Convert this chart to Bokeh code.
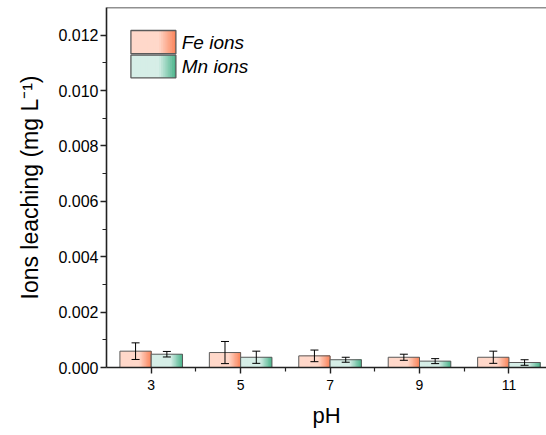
import numpy as np
from bokeh.plotting import figure
from bokeh.models import (Range1d, FixedTicker, ColumnDataSource, Whisker, TeeHead,
                          Label, Span, NumeralTickFormatter)
from bokeh.embed import file_html
from bokeh.resources import INLINE

# ---- data ----
ph_labels = ["3", "5", "7", "9", "11"]
fe_values = [0.00059, 0.00054, 0.00042, 0.00037, 0.00037]
fe_errors = [0.00030, 0.00040, 0.00021, 0.00011, 0.00022]
mn_values = [0.00048, 0.00037, 0.00028, 0.00023, 0.00018]
mn_errors = [0.00010, 0.00022, 0.00009, 0.00009, 0.00010]
series_names = ["Fe ions", "Mn ions"]
y_ticks = [0.000, 0.002, 0.004, 0.006, 0.008, 0.010, 0.012]

# ---- styling ----
FONT = "Liberation Sans"
fe_light, fe_dark = (255, 216, 202), (250, 130, 88)
mn_light, mn_dark = (214, 238, 231), (72, 178, 137)
outline = "#5a5a5a"
bar_w = 0.35
N_STRIPS = 24
Y_END = 0.013

p = figure(width=546, height=435, output_backend="svg", toolbar_location=None,
           x_range=Range1d(-0.5, 4.42), y_range=Range1d(0, Y_END),
           min_border_left=106, min_border_right=0, min_border_top=7,
           min_border_bottom=68)
p.outline_line_color = None
p.xgrid.visible = False
p.ygrid.visible = False
p.background_fill_color = "white"
p.border_fill_color = "white"


def mix(c1, c2, s):
    r = [int(round(a + (b - a) * s)) for a, b in zip(c1, c2)]
    return "#%02x%02x%02x" % tuple(r)


def strip_colors(light, dark):
    cols = []
    for k in range(N_STRIPS):
        t = (k + 0.5) / N_STRIPS
        s = 0.0 if t < 0.62 else (t - 0.62) / 0.38
        cols.append(mix(light, dark, min(1.0, s)))
    return cols


def gradient_quads(x_left, bottoms, tops, width, light, dark):
    cols = strip_colors(light, dark)
    L, R, B, T, C = [], [], [], [], []
    for xl, b, t in zip(x_left, bottoms, tops):
        for k in range(N_STRIPS):
            L.append(xl + k * width / N_STRIPS)
            R.append(xl + width)
            B.append(b)
            T.append(t)
            C.append(cols[k])
    p.quad(left=L, right=R, bottom=B, top=T, fill_color=C, line_color=None)


idx = np.arange(len(ph_labels))
series = [(fe_values, fe_errors, -bar_w / 2, fe_light, fe_dark),
          (mn_values, mn_errors, bar_w / 2, mn_light, mn_dark)]

for vals, errs, off, light, dark in series:
    xs = idx + off
    gradient_quads(list(xs - bar_w / 2), [0] * len(vals), vals, bar_w, light, dark)
    p.vbar(x=xs, top=vals, width=bar_w, fill_alpha=0, line_color=outline, line_width=1)
    src = ColumnDataSource(dict(x=xs, upper=np.array(vals) + np.array(errs),
                                lower=np.array(vals) - np.array(errs)))
    p.add_layout(Whisker(source=src, base="x", upper="upper", lower="lower",
                         level="overlay", line_color="black", line_width=1,
                         upper_head=TeeHead(size=8, line_color="black", line_width=1),
                         lower_head=TeeHead(size=8, line_color="black", line_width=1)))

# ---- legend (drawn manually so it can show the gradient) ----
leg_x0, leg_w = -0.227, 0.503
leg_rows = [(0.01133, 0.01217), (0.01046, 0.01128)]
for (b, t), (_, _, _, light, dark), name in zip(leg_rows, series, series_names):
    gradient_quads([leg_x0], [b], [t], leg_w, light, dark)
    p.quad(left=[leg_x0], right=[leg_x0 + leg_w], bottom=[b], top=[t],
           fill_alpha=0, line_color=outline, line_width=1.3)
    p.add_layout(Label(x=leg_x0 + leg_w + 0.065, y=(b + t) / 2, text=name,
                       text_font=FONT, text_font_size="19px", text_font_style="italic",
                       text_baseline="middle", text_color="black"))

# ---- axes ----
ax_col = "#222222"
p.yaxis.ticker = FixedTicker(ticks=y_ticks,
                             minor_ticks=[v + 0.001 for v in y_ticks])
p.yaxis.formatter = NumeralTickFormatter(format="0.000")
p.yaxis.axis_label = "Ions leaching (mg L\u207b\u00b9)"
p.xaxis.ticker = FixedTicker(ticks=list(idx), minor_ticks=list(idx[:-1] + 0.5))
p.xaxis.major_label_overrides = {int(i): lab for i, lab in zip(idx, ph_labels)}
p.xaxis.axis_label = "pH"

for ax in (p.xaxis[0], p.yaxis[0]):
    ax.axis_line_color = ax_col
    ax.axis_line_width = 1.6
    ax.major_tick_line_color = ax_col
    ax.minor_tick_line_color = ax_col
    ax.major_tick_line_width = 1.4
    ax.minor_tick_line_width = 1.2
    ax.major_tick_in = 0
    ax.minor_tick_in = 0
    ax.major_tick_out = 6
    ax.minor_tick_out = 4
    ax.major_label_text_font = FONT
    ax.axis_label_text_font = FONT
    ax.axis_label_text_font_style = "normal"
    ax.major_label_text_color = "black"
    ax.axis_label_text_color = "black"

p.yaxis.major_label_text_font_size = "16px"
p.yaxis.axis_label_text_font_size = "23px"
p.yaxis.axis_label_standoff = 12
p.yaxis.major_label_standoff = 2
p.xaxis.major_label_text_font_size = "14px"
p.xaxis.axis_label_text_font_size = "22px"
p.xaxis.major_label_standoff = 6
p.xaxis.axis_label_standoff = 10

# top frame line
p.add_layout(Span(location=Y_END, dimension="width", line_color=ax_col, line_width=1.6))

open("out.html", "w").write(file_html(p, INLINE))
